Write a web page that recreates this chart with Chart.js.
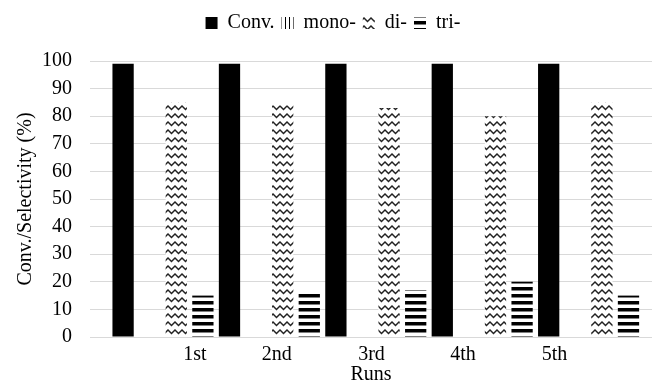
<!doctype html>
<html lang="en">

<head>
  <meta charset="utf-8" />
  <title>Conversion / selectivity over runs</title>
  <script src="https://cdn.jsdelivr.net/npm/chart.js@4.4.1/dist/chart.umd.min.js"></script>
  <style>
    body {
      margin: 0;
      padding: 0;
      background: #ffffff;
    }

    .chart_box {
      position: relative;
      width: 652px;
      height: 383px;
    }
  </style>
</head>

<body>

  <div class="chart_box">
    <canvas id="runsChart"></canvas>
  </div>

  <script>
    // Data
    const runs = ["1st", "2nd", "3rd", "4th", "5th"];
    const convValues = [99, 99, 99, 99, 99];
    const monoValues = [0, 0, 0, 0, 0];
    const diValues = [85, 84, 83, 80, 85];
    const triValues = [15, 16, 17, 20, 15];
    const yTicks = [0, 10, 20, 30, 40, 50, 60, 70, 80, 90, 100];

    // The run labels sit off the bar groups in the original, so they get their own axis
    const runLabelAt = [0.30, 1.07, 1.96, 2.82, 3.68];
    const xMin = -0.686;
    const xMax = 4.596;

    const serif = "'Liberation Serif', 'Times New Roman', serif";

    // Fill patterns
    const makePattern = (w, h, draw) => {
      const c = document.createElement("canvas");
      c.width = w;
      c.height = h;
      const g = c.getContext("2d");
      g.fillStyle = "#ffffff";
      g.fillRect(0, 0, w, h);
      draw(g);
      return g.createPattern(c, "repeat");
    };

    const monoPattern = makePattern(4, 4, (g) => {
      g.fillStyle = "#000000";
      g.fillRect(1, 0, 1, 4);
    });

    const diPattern = makePattern(7, 8, (g) => {
      g.strokeStyle = "#222222";
      g.lineWidth = 1.5;
      g.beginPath();
      g.moveTo(-0.5, 1.5);
      g.lineTo(3.5, 5.5);
      g.lineTo(7.5, 1.5);
      g.stroke();
    });

    const triPattern = makePattern(8, 7, (g) => {
      g.fillStyle = "#000000";
      g.fillRect(0, 0, 8, 3.5);
    });

    const toPoints = (values) => values.map((v, i) => ({ x: i, y: v }));

    // push the plot down below the legend
    const legendGap = {
      id: "legendGap",
      beforeInit(chart) {
        const fit = chart.legend.fit;
        chart.legend.fit = function () {
          fit.bind(chart.legend)();
          this.height += 18;
        };
      },
    };

    new Chart(document.getElementById("runsChart"), {
      type: "bar",
      plugins: [legendGap],
      data: {
        datasets: [
          { label: "Conv.", data: toPoints(convValues), backgroundColor: "#000000" },
          { label: "mono-", data: toPoints(monoValues), backgroundColor: monoPattern },
          { label: "di-", data: toPoints(diValues), backgroundColor: diPattern },
          { label: "tri-", data: toPoints(triValues), backgroundColor: triPattern },
        ],
      },
      options: {
        responsive: true,
        maintainAspectRatio: false,
        animation: false,
        categoryPercentage: 1.0,
        barPercentage: 0.8,
        layout: { padding: { left: 14, top: 6, right: 0, bottom: 0 } },
        plugins: {
          tooltip: { enabled: false },
          legend: {
            position: "top",
            labels: {
              boxWidth: 12,
              boxHeight: 12,
              padding: 7,
              color: "#000000",
              font: { family: serif, size: 20 },
            },
          },
        },
        scales: {
          x: {
            type: "linear",
            display: false,
            offset: false,
            min: xMin,
            max: xMax,
            grid: { offset: false },
            afterBuildTicks: (axis) => {
              axis.ticks = runs.map((_, i) => ({ value: i }));
            },
          },
          xRuns: {
            type: "linear",
            position: "bottom",
            offset: false,
            min: xMin,
            max: xMax,
            grid: { display: false, drawTicks: false, offset: false },
            border: { display: false },
            afterBuildTicks: (axis) => {
              axis.ticks = runLabelAt.map((v) => ({ value: v }));
            },
            ticks: {
              padding: 6,
              autoSkip: false,
              maxRotation: 0,
              color: "#000000",
              font: { family: serif, size: 20 },
              callback: (value, index) => runs[index],
            },
            title: {
              display: true,
              text: "Runs",
              color: "#000000",
              font: { family: serif, size: 20, lineHeight: 0.8 },
              padding: { top: -6, bottom: 0 },
            },
          },
          y: {
            min: 0,
            max: 100,
            afterBuildTicks: (axis) => {
              axis.ticks = yTicks.map((v) => ({ value: v }));
            },
            grid: { color: "#d9d9d9", lineWidth: 1, drawTicks: false },
            border: { display: false },
            ticks: {
              padding: 18,
              autoSkip: false,
              color: "#000000",
              font: { family: serif, size: 20 },
            },
            title: {
              display: true,
              text: "Conv./Selectivity (%)",
              color: "#000000",
              font: { family: serif, size: 20, lineHeight: 1.2 },
              padding: { top: 0, bottom: -14 },
            },
          },
        },
      },
    });
  </script>

</body>

</html>
